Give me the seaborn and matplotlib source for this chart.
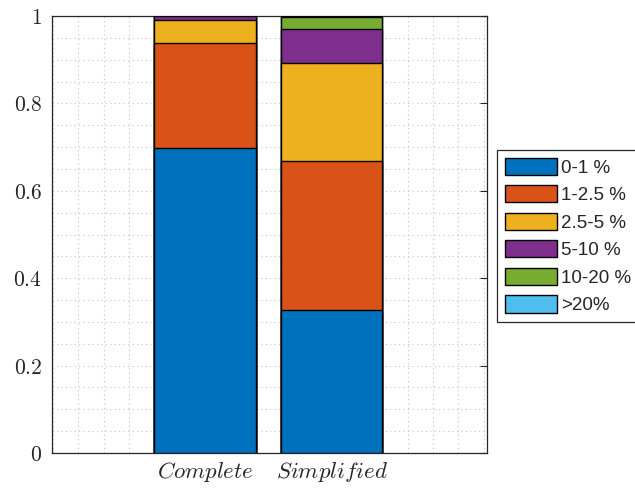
import numpy as np
import pandas as pd
import matplotlib
matplotlib.use("Agg")
import matplotlib.pyplot as plt
from matplotlib.ticker import MultipleLocator, FixedLocator, FixedFormatter
import seaborn as sns

# Share of cases per error band, for each model
categories = ["Complete", "Simplified"]
bands = ["0-1 %", "1-2.5 %", "2.5-5 %", "5-10 %", "10-20 %", ">20%"]
complete_share = [0.697, 0.241, 0.053, 0.009, 0.000, 0.000]
simplified_share = [0.327, 0.341, 0.224, 0.078, 0.027, 0.003]
band_colors = ["#0072BD", "#D95319", "#EDB120", "#7E2F8E", "#77AC30", "#4DBEEE"]
y_ticks = [0, 0.2, 0.4, 0.6, 0.8, 1.0]
y_tick_labels = ["0", "0.2", "0.4", "0.6", "0.8", "1"]

sns.set_theme(style="white")
plt.rcParams["font.family"] = ["Liberation Sans", "DejaVu Sans"]
plt.rcParams["mathtext.fontset"] = "cm"

shares = pd.DataFrame({"Complete": complete_share, "Simplified": simplified_share}, index=bands)
cumulative = shares.cumsum()

fig = plt.figure(figsize=(6.35, 4.88), dpi=100)
ax = fig.add_axes([52 / 635, 1 - 453 / 488, 435 / 635, 437 / 488])

# Stack by drawing cumulative totals from the top band down
for band, color in reversed(list(zip(bands, band_colors))):
    sns.barplot(x=categories, y=cumulative.loc[band].values, color=color,
                saturation=1, edgecolor="black", linewidth=1.0,
                width=0.8, label=band, ax=ax, zorder=3)
if ax.get_legend() is not None:
    ax.get_legend().remove()

ax.set_xlim(-1.207, 2.226)
ax.set_ylim(0, 1)

ax.yaxis.set_major_locator(FixedLocator(y_ticks))
ax.yaxis.set_major_formatter(FixedFormatter([f"${t}$" for t in y_tick_labels]))
ax.yaxis.set_minor_locator(MultipleLocator(0.05))
ax.xaxis.set_major_locator(FixedLocator([0, 1]))
ax.xaxis.set_major_formatter(FixedFormatter([f"${c}$" for c in categories]))
ax.xaxis.set_minor_locator(MultipleLocator(0.2))

ax.grid(True, which="both", linestyle=(0, (1, 3)), color="#c4c4c4", linewidth=0.8, zorder=0)
ax.set_axisbelow(True)

ax.tick_params(axis="both", which="major", direction="in", length=5, width=0.8,
               color="#262626", top=True, right=True, pad=7)
ax.tick_params(axis="y", which="major", labelsize=15.5)
ax.tick_params(axis="x", which="major", top=False, pad=5, labelsize=16.5)
ax.tick_params(which="minor", length=0)
for side in ax.spines.values():
    side.set_visible(True)
    side.set_color("#262626")
    side.set_linewidth(0.9)
ax.set_xlabel("")
ax.set_ylabel("")

handles, labels = ax.get_legend_handles_labels()
leg = fig.legend(handles[::-1], labels[::-1], loc="upper left",
                 bbox_to_anchor=(497 / 635, 1 - 150 / 488), bbox_transform=fig.transFigure,
                 fontsize=13.5, frameon=True, fancybox=False, framealpha=1,
                 edgecolor="#262626", borderpad=0.4, borderaxespad=0,
                 handlelength=2.8, handleheight=1.05, handletextpad=0.2,
                 labelspacing=0.45)
leg.get_frame().set_linewidth(0.9)

fig.savefig("out.png", dpi=100)
